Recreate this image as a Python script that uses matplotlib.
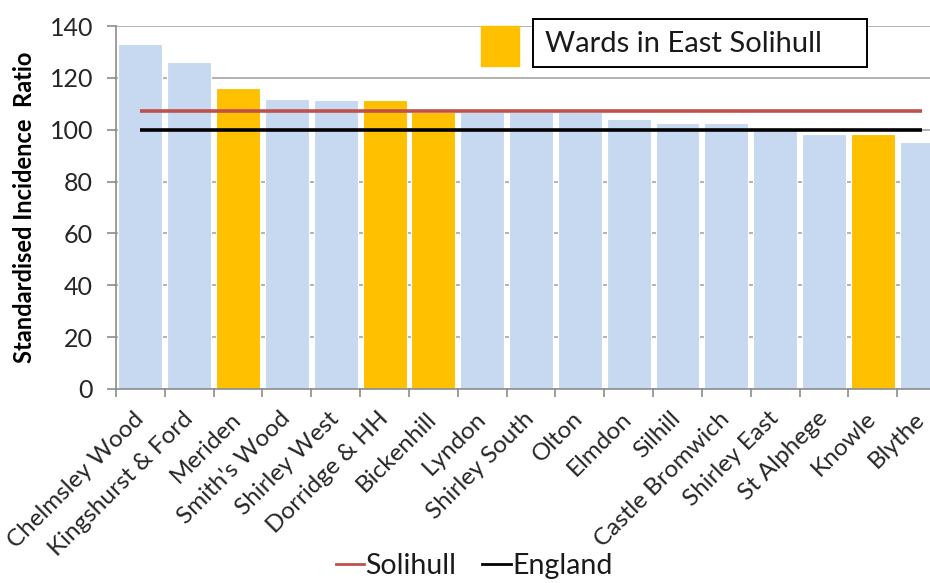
import matplotlib.pyplot as plt
from matplotlib.patches import Rectangle
from matplotlib.lines import Line2D

plt.rcParams['font.family'] = ['Lato', 'DejaVu Sans']

# ward names, in the order shown
wards = ['Chelmsley Wood', 'Kingshurst & Ford', 'Meriden', "Smith's Wood",
         'Shirley West', 'Dorridge & HH', 'Bickenhill', 'Lyndon',
         'Shirley South', 'Olton', 'Elmdon', 'Silhill', 'Castle Bromwich',
         'Shirley East', 'St Alphege', 'Knowle', 'Blythe']
# standardised incidence ratio per ward
sir = [132.9, 126.0, 116.0, 112.0, 111.3, 111.3, 107.0, 107.0,
       107.0, 107.0, 104.2, 102.7, 102.7, 100.7, 98.2, 98.2, 95.1]
# wards in East Solihull get the orange colour
east_wards = ['Meriden', 'Dorridge & HH', 'Bickenhill', 'Knowle']

solihull = 107.3
england = 100.0

blue = '#C6D9F1'
orange = '#FFC000'
red = '#C0504D'

fig = plt.figure(figsize=(9.3, 5.83), dpi=100)
ax = fig.add_axes([116/930, 194/583, 830/930, 363/583])

x = list(range(len(wards)))
colors = [orange if w in east_wards else blue for w in wards]
ax.bar(x, sir, width=0.9, color=colors, edgecolor='white', linewidth=0.8, zorder=2)

ax.plot(x, [solihull] * len(x), color=red, lw=2.6, zorder=3, solid_capstyle='butt')
ax.plot(x, [england] * len(x), color='black', lw=2.6, zorder=3, solid_capstyle='butt')

ax.set_xlim(-0.5, len(wards) - 0.5)
ax.set_ylim(0, 140)
ax.set_yticks(range(0, 141, 20))
ax.yaxis.grid(True, color='#A6A6A6', lw=1.2, zorder=0)
ax.set_axisbelow(True)

for s in ['top', 'right']:
    ax.spines[s].set_visible(False)
for s in ['left', 'bottom']:
    ax.spines[s].set_color('#8C8C8C')
    ax.spines[s].set_linewidth(1.2)

ax.tick_params(axis='y', length=6.5, width=1.2, color='#8C8C8C', pad=10,
               labelsize=18, labelcolor='#262626')
ax.set_xticks(x)
ax.set_xticklabels(wards, rotation=45, ha='right', va='center',
                   rotation_mode='anchor', fontsize=17.5, color='#262626')
ax.tick_params(axis='x', length=0, pad=19)
ax.set_xticks([i - 0.5 for i in range(len(wards) + 1)], minor=True)
ax.tick_params(axis='x', which='minor', length=6, width=1.2, color='#8C8C8C')

ax.set_ylabel('Standardised Incidence  Ratio', fontsize=17, fontweight='bold')
ax.yaxis.set_label_coords(-0.096, 0.5)

# "Wards in East Solihull" key at the top
fig.patches.append(Rectangle((481/930, 1 - 66/583), 38/930, 40/583,
                             transform=fig.transFigure, color=orange))
fig.patches.append(Rectangle((533/930, 1 - 67/583), 334/930, 48/583,
                             transform=fig.transFigure, facecolor='white',
                             edgecolor='black', lw=1.4))
fig.text(545/930, 1 - 44/583, 'Wards in East Solihull', fontsize=21,
         va='center', ha='left', color='#1a1a1a')

handles = [Line2D([], [], color=red, lw=2),
           Line2D([], [], color='black', lw=2)]
fig.legend(handles, ['Solihull', 'England'], loc='center',
           bbox_to_anchor=(474/930, 1 - 566/583), ncol=2, frameon=False,
           fontsize=20.5, handlelength=1.0, handletextpad=0.05,
           columnspacing=0.9, labelcolor='#1a1a1a')

fig.savefig('out.png', dpi=100)
